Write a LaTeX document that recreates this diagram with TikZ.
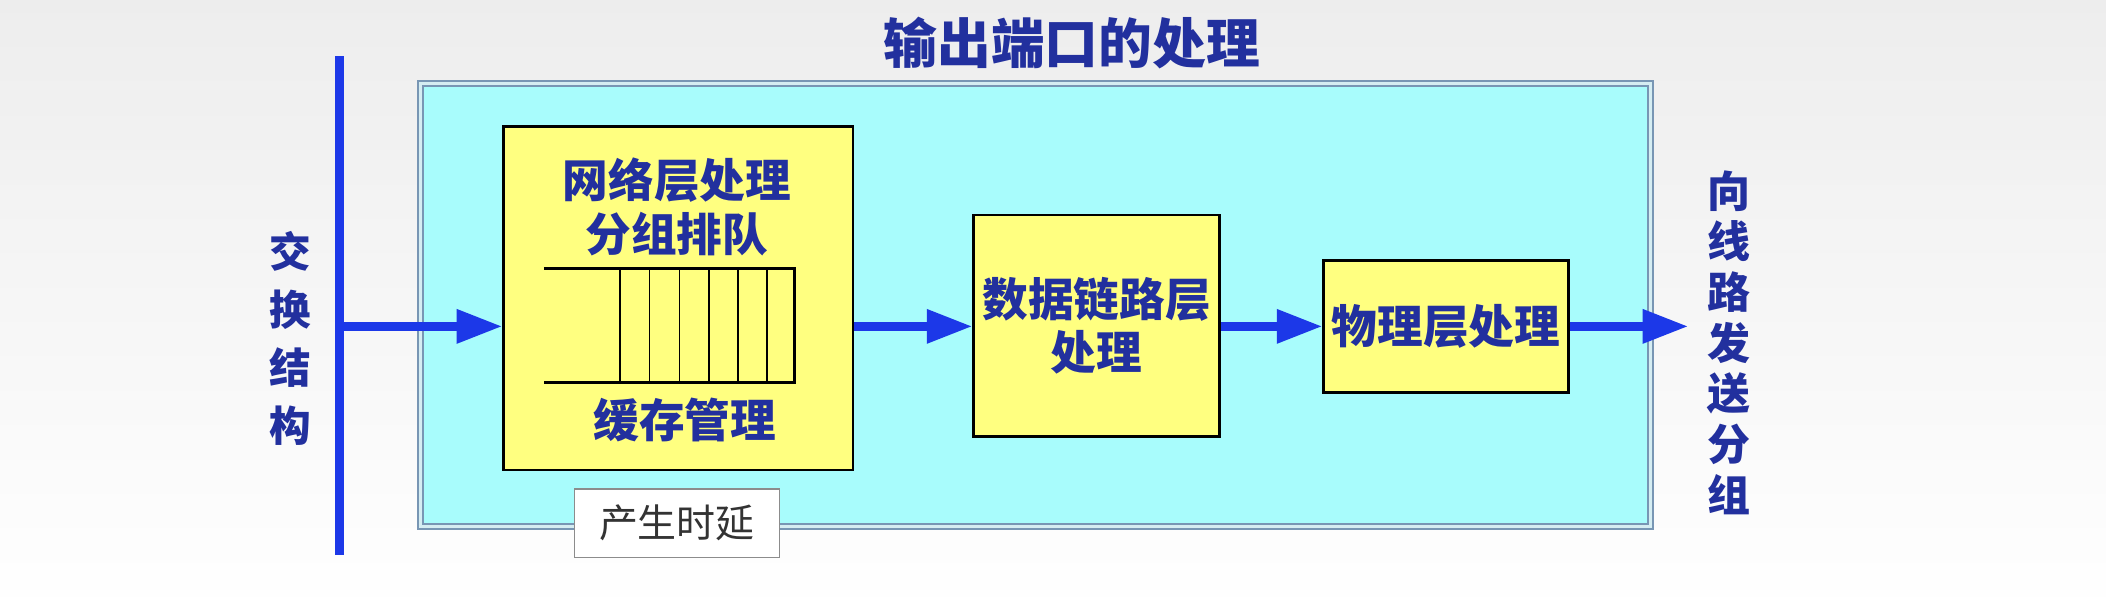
\documentclass[tikz,border=0pt]{standalone}
\usepackage{fontspec}
\newfontfamily\cjk{Noto Sans CJK SC}
\usetikzlibrary{arrows.meta}
\definecolor{tblue}{RGB}{34,48,158}
\definecolor{ablue}{RGB}{28,56,232}
\definecolor{cyanfill}{RGB}{168,252,252}
\definecolor{yfill}{RGB}{255,255,128}
\definecolor{framec}{RGB}{120,150,180}
\begin{document}
\begin{tikzpicture}[x=1pt,y=-1pt,
  ybox/.style={draw=black, line width=2pt, fill=yfill, inner sep=0pt},
  flow/.style={draw=ablue, line width=6.5pt, -{Triangle[length=34pt,width=24pt,fill=ablue]}},
  btext/.style={text=tblue, font=\cjk\bfseries\fontsize{34}{40}\selectfont, align=center, inner sep=0pt},
  qline/.style={draw=black, line width=1.2pt}]
\useasboundingbox (0,0) rectangle (1568,457);
\shade[top color=black!7, bottom color=white] (0,0) rectangle (1568,457);
% title
\node[btext, font=\cjk\bfseries\fontsize{40}{48}\selectfont] (title) at (798,32) {输出端口的处理};
% cyan frame
\node[draw=framec, line width=1.5pt, double=cyanfill!60!framec!40, double distance=2pt, fill=cyanfill, minimum width=916pt, minimum height=330pt, inner sep=0pt] (port) at (771,227) {};
% vertical bar
\coordinate (vtop) at (253,42);
\coordinate (vbot) at (253,413);
\coordinate (vmid) at (253,243);
\draw[ablue, line width=6.5pt] (vtop) -- (vbot);
\node[btext, font=\cjk\bfseries\fontsize{31}{43}\selectfont] (sw) at (216.5,252) {交\\换\\结\\构};
% box 1
\node[ybox, minimum width=260pt, minimum height=256pt] (b1) at (505,222) {};
\node[btext] (b1t) at (504,154) {网络层处理\\分组排队};
\node[btext] (b1b) at (510,313) {缓存管理};
\draw[qline, line width=2pt] (405,200) -- (591.5,200) -- (591.5,285) -- (405,285);
\foreach \x in {461.5,483.5,506,528,549.5,571}
  \draw[qline] (\x,200) -- (\x,285);
% delay label
\node[draw=black!45, line width=1pt, fill=white, minimum width=153pt, minimum height=51pt, inner sep=0pt, text=black!80, font=\cjk\fontsize{29}{34}\selectfont] (delay) at (504,389.5) {产生时延};
% box 2
\node[ybox, btext, draw=black, fill=yfill, minimum width=183pt, minimum height=165pt] (b2) at (816.5,242.5) {数据链路层\\处理};
% box 3
\node[ybox, btext, draw=black, fill=yfill, minimum width=182pt, minimum height=98pt] (b3) at (1076.6,243) {物理层处理};
% arrows
\coordinate (out) at (1257,243);
\draw[flow] (vmid) -- (b1.west |- vmid);
\draw[flow] (b1.east |- vmid) -- (b2.west |- vmid);
\draw[flow] (b2.east |- vmid) -- (b3.west);
\draw[flow] (b3.east) -- (out);
\node[btext, font=\cjk\bfseries\fontsize{32}{37.7}\selectfont] (send) at (1287,255) {向\\线\\路\\发\\送\\分\\组};
\end{tikzpicture}
\end{document}
